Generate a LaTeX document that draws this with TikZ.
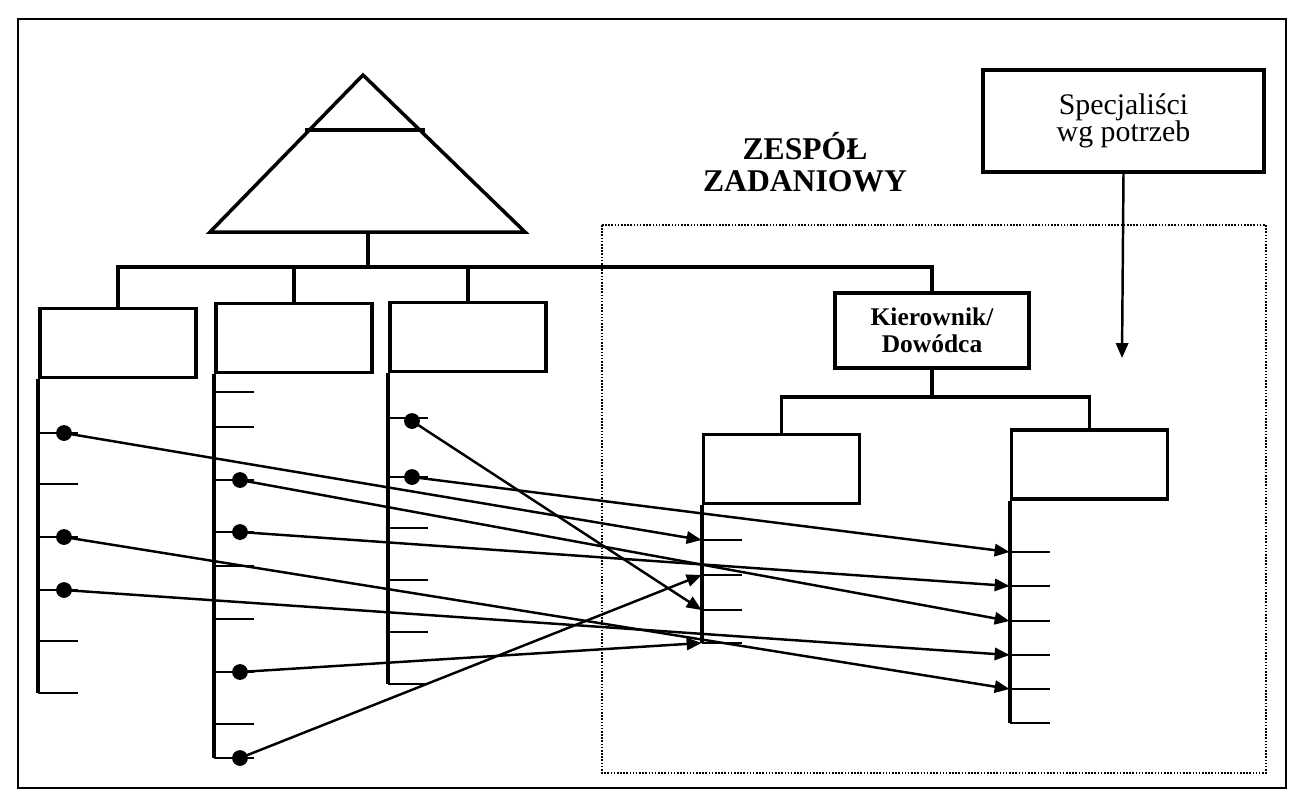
\documentclass[tikz,border=0pt]{standalone}
\usepackage{fontspec}
\setmainfont{Liberation Serif}
\usetikzlibrary{arrows.meta}
\tikzset{
  orgbox/.style={draw,line width=2.2pt,inner sep=0pt,minimum width=3.12cm,minimum height=1.38cm},
  wire/.style={line width=2.2pt},
  tick/.style={line width=1.1pt},
  link/.style={line width=1.4pt,-{Triangle[length=8.5pt,width=7pt]}},
  dot/.style={circle,fill,inner sep=0pt,minimum size=9pt}
}
\begin{document}
\begin{tikzpicture}[x=0.02cm,y=-0.02cm]
      \useasboundingbox (0,0) rectangle (1296,802);
      \draw[line width=1.4pt] (18,19) rectangle (1286,788);
      \draw[line width=0.9pt,dash pattern=on 0.9pt off 0.9pt] (602,225) rectangle (1266,773);
      \node[font=\bfseries\fontsize{18}{18.5}\selectfont,align=center] (team) at (805,162) {ZESPÓŁ\\ZADANIOWY};
      \coordinate (apex) at (363,75);
      \coordinate (trleft) at (210,232);
      \coordinate (trright) at (525,232);
      \coordinate (trbase) at (368,232);
      \coordinate (bus) at (368,267);
      \draw[line width=2pt] (trleft) -- (apex) -- (trright) -- cycle;
      \draw[line width=2pt] (305,130) -- (425,130);
      \node[orgbox] (col1) at (118,343) {};
      \node[orgbox] (col2) at (294,338) {};
      \node[orgbox] (col3) at (468,337) {};
      \node[orgbox,minimum width=3.88cm,minimum height=1.5cm,align=center,
        font=\bfseries\fontsize{14.5}{15.5}\selectfont] (kier) at (932,330.5) {Kierownik/\\Dowódca};
      \node[orgbox] (sub1) at (781.5,469) {};
      \node[orgbox] (sub2) at (1089.5,464.5) {};
      \node[orgbox,minimum width=5.62cm,minimum height=2.04cm,align=center,
        font=\fontsize{17}{15.5}\selectfont] (spec) at (1123.5,121) {Specjaliści\\wg potrzeb};
      \coordinate (subbus) at (932,397);
      \coordinate (specin) at (1122,358);
      \draw[wire] (trbase) -- (bus);
      \draw[wire] (col1.north) |- (kier.north |- bus) -- (kier.north);
      \draw[wire] (col2.north) -- (col2.north |- bus);
      \draw[wire] (col3.north) -- (col3.north |- bus);
      \draw[wire] (kier.south) -- (subbus);
      \draw[wire] (sub1.north) |- (subbus) -| (sub2.north);
      \foreach \c/\bot in {col1/693, col2/758, col3/684, sub1/643, sub2/723}
      {
      \draw[wire] (\c.south west) -- (\c.south west |- 0,\bot);
      }
      \foreach \c/\y in {
      col1/433, col1/484, col1/537, col1/590, col1/641, col1/693,
      col2/392, col2/427, col2/480, col2/532, col2/566, col2/619, col2/672, col2/724, col2/758,
      col3/418, col3/477, col3/528, col3/580, col3/632, col3/684,
      sub1/540, sub1/575, sub1/610, sub1/643,
      sub2/552, sub2/586, sub2/621, sub2/655, sub2/689, sub2/723}
      {
      \draw[tick] (\c.south west |- 0,\y) -- ++(40,0);
      }
      \foreach \n/\y in {1/540, 2/575, 3/610, 4/643}
      {
      \coordinate (s\n) at (sub1.south west |- 0,\y);
      }
      \foreach \n/\y in {1/552, 2/586, 3/621, 4/655, 5/689, 6/723}
      {
      \coordinate (r\n) at (sub2.south west |- 0,\y);
      }
      \foreach \n/\x/\y in {a/64/433, b/64/537, c/64/590, d/240/480, e/240/532,
      f/240/672, g/240/758, h/412/421, i/412/477}
      {
      \node[dot] (p\n) at (\x,\y) {};
      }
      \foreach \a/\b in {a/s1, b/r5, c/r4, d/r3, e/r2, f/s4, g/s2, h/s3, i/r1}
      {
      \draw[link] (p\a.center) -- (\b);
      }
      \draw[link] (spec.south) -- (specin);
    \end{tikzpicture}
\end{document}
